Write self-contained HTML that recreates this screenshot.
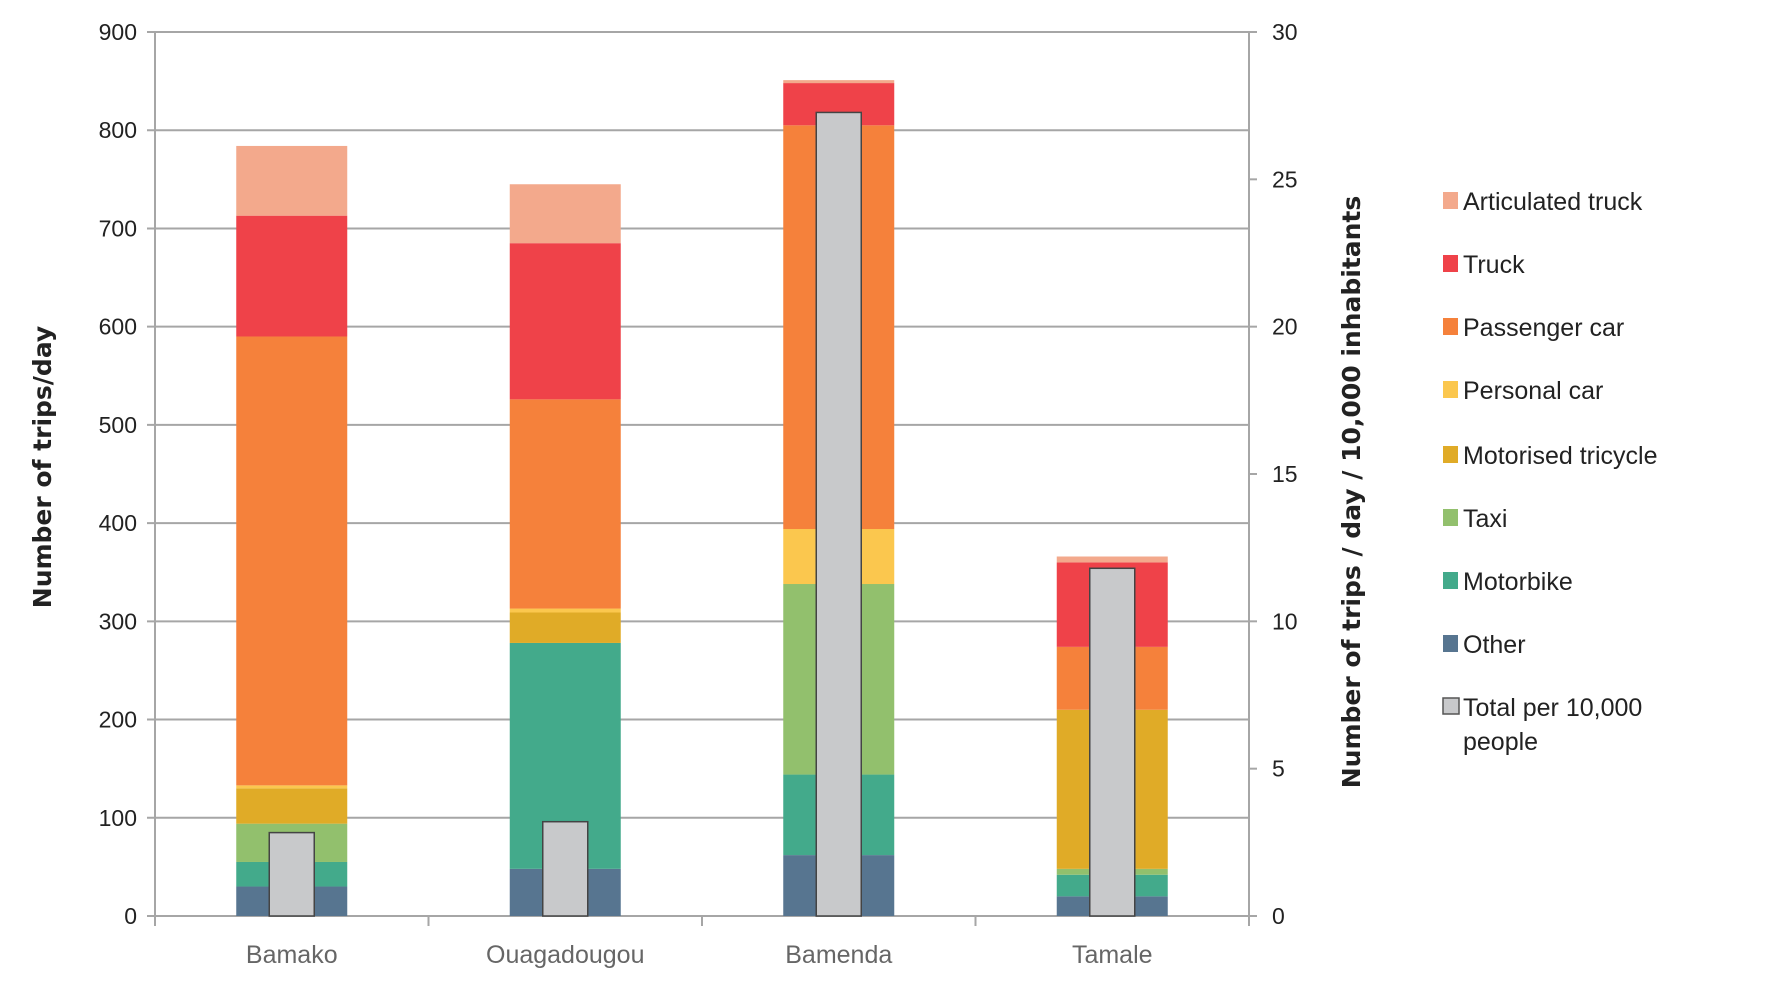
<!DOCTYPE html>
<html><head><meta charset="utf-8"><style>
html,body{margin:0;padding:0;background:#fff;}
svg{display:block;}
text{font-family:"Liberation Sans",sans-serif;}
</style></head><body>
<svg id="chart" width="1772" height="985" viewBox="0 0 1772 985"></svg>
<script>
const categories=["Bamako","Ouagadougou","Bamenda","Tamale"];
const seriesNames=["Other","Motorbike","Taxi","Motorised tricycle","Personal car","Passenger car","Truck","Articulated truck"];
const seriesColors=["#577590","#43aa8b","#92c06d","#e0ab27","#fbc74e","#f5813b","#ef4249","#f3a98c"];
const other=[30,48,62,20];
const motorbike=[25,230,82,22];
const taxi=[39,0,194,6];
const tricycle=[36,31,0,162];
const personalCar=[3,4,56,0];
const passengerCar=[457,213,411,64];
const truck=[123,159,43,86];
const articulated=[71,60,3,6];
const totalPer10k=[2.83,3.2,27.27,11.8];
const leftTicks=[0,100,200,300,400,500,600,700,800,900];
const rightTicks=[0,5,10,15,20,25,30];
const series=[other,motorbike,taxi,tricycle,personalCar,passengerCar,truck,articulated];

const NS="http://www.w3.org/2000/svg";
const svg=document.getElementById('chart');
const X0=155,X1=1249,Y0=916,Y1=32;
const band=(X1-X0)/categories.length;
const yL=v=>Y0-(v/900)*(Y0-Y1);
const yR=v=>Y0-(v/30)*(Y0-Y1);
const xc=i=>X0+band*(i+0.5);
function mk(tag,attrs,parent){const e=document.createElementNS(NS,tag);for(const k in attrs)e.setAttribute(k,attrs[k]);(parent||svg).appendChild(e);return e;}

leftTicks.forEach(t=>{
  const y=yL(t);
  const g=mk('line',{x1:X0-8,x2:X1,y1:y,y2:y,stroke:'#a6a6a6','stroke-width':2});
  
  
  const tx=mk('text',{x:137,y:y+8,'text-anchor':'end','font-size':23,fill:'#222'});
  tx.textContent=t;
  
  
});
rightTicks.forEach(t=>{
  const y=yR(t);
  const g=mk('line',{x1:X1,x2:X1+8,y1:y,y2:y,stroke:'#a6a6a6','stroke-width':2});
  
  
  const tx=mk('text',{x:1272,y:y+8,'font-size':23,fill:'#222'});
  tx.textContent=t;
  
  
});
let a=mk('line',{x1:X0,x2:X0,y1:Y1,y2:Y0+10,stroke:'#a6a6a6','stroke-width':2});

a=mk('line',{x1:X1,x2:X1,y1:Y1,y2:Y0+10,stroke:'#a6a6a6','stroke-width':2});

for(let i=1;i<categories.length;i++){
  const t=mk('line',{x1:X0+band*i,x2:X0+band*i,y1:Y0,y2:Y0+10,stroke:'#a6a6a6','stroke-width':2});
  
}
const bw=111,gw=45;
categories.forEach((c,i)=>{
  let cum=0;
  series.forEach((s,k)=>{
    const v=s[i]; if(v<=0){return;}
    const r=mk('rect',{x:xc(i)-bw/2,y:yL(cum+v),width:bw,height:yL(cum)-yL(cum+v),fill:seriesColors[k]});
    
    
    cum+=v;
  });
  const g=mk('rect',{x:xc(i)-gw/2,y:yR(totalPer10k[i]),width:gw,height:Y0-yR(totalPer10k[i]),fill:'#c8c9cb',stroke:'#444','stroke-width':1.5});
  
  
  const tx=mk('text',{x:xc(i),y:963,'text-anchor':'middle','font-size':25,fill:'#666'});
  tx.textContent=c;
  
  
});
let t=mk('text',{x:0,y:0,transform:'translate(51,467) rotate(-90)','text-anchor':'middle','font-size':25,'font-weight':'bold',fill:'#222',style:'font-family:"DejaVu Sans",sans-serif'});
t.textContent='Number of trips/day';

t=mk('text',{x:0,y:0,transform:'translate(1360,492) rotate(-90)','text-anchor':'middle','font-size':25,'font-weight':'bold',fill:'#222',style:'font-family:"DejaVu Sans",sans-serif'});
t.textContent='Number of trips  / day / 10,000 inhabitants';

const legendNames=["Articulated truck","Truck","Passenger car","Personal car","Motorised tricycle","Taxi","Motorbike","Other"];
const legendColors=["#f3a98c","#ef4249","#f5813b","#fbc74e","#e0ab27","#92c06d","#43aa8b","#577590"];
const legendY=[201,264,327,390,455,518,581,644];
legendNames.forEach((n,k)=>{
  const y=legendY[k];
  const s=mk('rect',{x:1443,y:y-9,width:15,height:17,fill:legendColors[k]});
  
  
  const tx=mk('text',{x:1463,y:y+9,'font-size':25,fill:'#222'});
  tx.textContent=n;
  
  
});
let s=mk('rect',{x:1443,y:698,width:16,height:16,fill:'#c8c9cb',stroke:'#555','stroke-width':1.5});

t=mk('text',{x:1463,y:716,'font-size':25,fill:'#222'});
t.textContent='Total per 10,000';

t=mk('text',{x:1463,y:750,'font-size':25,fill:'#222'});
t.textContent='people';

</script>
</body></html>
